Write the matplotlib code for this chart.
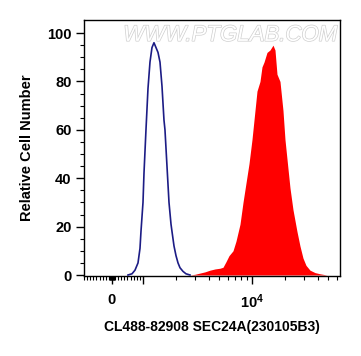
import matplotlib
matplotlib.use("Agg")
import matplotlib.pyplot as plt
import matplotlib.patheffects as pe
import numpy as np

# Fluorescence intensity (biexponential-like axis) and relative counts
blue_x = [516, 645, 742, 839, 903, 935, 1000, 1021, 1065, 1111, 1159, 1209, 1261,
          1316, 1373, 1432, 1494, 1558, 1591, 1660, 1732, 1807, 1845, 1925, 2008,
          2095, 2185, 2328, 2480, 2700]
blue_y = [0, 0.5, 2, 5, 11, 18, 30, 42, 60, 77, 88, 94, 96,
          94, 92, 88, 78, 64, 60, 45, 30, 21, 18, 12, 8,
          5, 3, 1.5, 0.5, 0]

red_x = [2700, 3000, 3334, 3705, 4118, 4576, 5087, 5420, 5774, 6152, 6694, 7133,
         7762, 8270, 8810, 9387, 10000, 10654, 11115, 11840, 12350, 12890, 13730,
         14630, 15590, 16260, 16960, 18070, 19250, 20080, 21390, 22320, 23780,
         25870, 27560, 29370, 31290, 34050, 37840, 42060, 48760]
red_y = [0, 0.3, 0.8, 1.3, 2, 2.5, 2.8, 3.2, 5.5, 8, 10, 14,
         21, 30, 38, 46, 56, 68, 76, 80, 86, 88, 92,
         93, 95, 93, 83, 80, 68, 56, 44, 36, 27,
         18, 12, 7, 4, 2, 1, 0.5, 0]

y_ticks = [0, 20, 40, 60, 80, 100]
x_major = [0, 1000, 10000]
x_labels = ["0", "", r"$\mathbf{10^4}$"]
x_label = "CL488-82908 SEC24A(230105B3)"
y_label = "Relative Cell Number"
watermark = "WWW.PTGLAB.COM"

plt.rcParams['font.family'] = ['Liberation Sans', 'DejaVu Sans']
plt.rcParams['mathtext.fontset'] = 'custom'
plt.rcParams['mathtext.bf'] = 'Liberation Sans:bold'
plt.rcParams['mathtext.rm'] = 'Liberation Sans'

fig = plt.figure(figsize=(3.61, 3.56), dpi=100)
ax = fig.add_axes([84/361, 80/356, 256/361, 256/356])

ax.set_xscale('symlog', linthresh=1000, linscale=0.256)
ax.fill_between(red_x, red_y, 0, color='#ff0000', linewidth=0, zorder=2)
ax.plot(blue_x, blue_y, color='#1c1c85', linewidth=1.2, zorder=3)

ax.set_xlim(-903, 64200)
ax.set_ylim(-0.41, 105.4)

ax.set_yticks(y_ticks)
ax.set_yticklabels([str(t) for t in y_ticks], fontweight='bold', fontsize=10.5)
ax.set_yticks(np.arange(5, 105, 5), minor=True)

ax.set_xticks(x_major)
ax.set_xticklabels(x_labels, fontweight='bold', fontsize=10.5)
minor = ([-v for v in range(100, 1000, 100)] + [-80, -60, -40, -20, 20, 40, 60, 80]
         + list(range(100, 1000, 100)) + list(range(2000, 10000, 1000))
         + list(range(20000, 70000, 10000)))
ax.set_xticks(minor, minor=True)

ax.tick_params(axis='x', which='major', length=6, width=1, direction='out', pad=6)
ax.tick_params(axis='y', which='major', length=6, width=1, direction='out', pad=3)
ax.tick_params(axis='both', which='minor', length=3, width=0.8, direction='out')
for s in ax.spines.values():
    s.set_linewidth(1)

ax.set_xlabel(x_label, fontweight='bold', fontsize=10, labelpad=6)
ax.set_ylabel(y_label, fontweight='bold', fontsize=10.5, labelpad=9)

ax.text(0.99, 0.94, watermark, transform=ax.transAxes, ha='right', va='center',
        fontsize=16, color='white', style='italic', zorder=1,
        path_effects=[pe.withStroke(linewidth=1.0, foreground='#cfcfcf')])

fig.savefig("out.png", dpi=100)
